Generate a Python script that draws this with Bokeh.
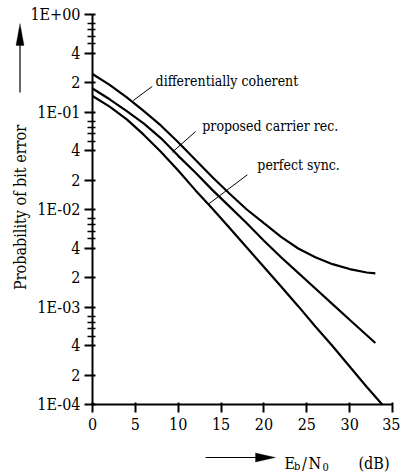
import math
from bokeh.plotting import figure
from bokeh.models import Range1d, FixedTicker, Label, Arrow, PolyAnnotation
from bokeh.embed import file_html
from bokeh.resources import INLINE

# ---- data ----
snr_db = [0, 2, 4, 6, 8, 10, 12, 14, 16, 18, 20, 22, 24, 26, 28, 30, 32, 33]
p_diff_coherent = [0.245, 0.19, 0.141, 0.102, 0.0724, 0.049, 0.0324, 0.0214, 0.0145,
                   0.0100, 0.00724, 0.00525, 0.00398, 0.00324, 0.00275, 0.00245,
                   0.00226, 0.00221]
p_proposed = [0.174, 0.135, 0.102, 0.0759, 0.0537, 0.0355, 0.024, 0.0158, 0.0107,
              0.00724, 0.00479, 0.00324, 0.00224, 0.00155, 0.00107, 0.00074,
              0.000513, 0.000427]
snr_db_perfect = [0, 2, 4, 6, 8, 10, 12, 14, 16, 18, 20, 22, 24, 26, 28, 30, 32, 33.8]
p_perfect = [0.146, 0.1135, 0.0841, 0.0582, 0.0389, 0.0251, 0.0158, 0.0102, 0.00646,
             0.00407, 0.00257, 0.00162, 0.00102, 0.00063, 0.000398, 0.000245,
             0.000151, 0.0001]

x_ticks = [0, 5, 10, 15, 20, 25, 30, 35]
y_ticks = [1e-4, 2e-4, 4e-4, 1e-3, 2e-3, 4e-3, 1e-2, 2e-2, 4e-2, 1e-1, 2e-1, 4e-1, 1.0]
y_tick_labels = ["1E-04", "2", "4", "1E-03", "2", "4", "1E-02", "2", "4",
                 "1E-01", "2", "4", "1E+00"]
y_minor = [5e-4, 6e-4, 7e-4, 8e-4, 5e-3, 6e-3, 7e-3, 8e-3,
           5e-2, 6e-2, 7e-2, 8e-2, 0.5, 0.6, 0.7, 0.8]

curve_names = ["differentially coherent", "proposed carrier rec.", "perfect sync."]
name_x = [7.36, 12.81, 19.23]
name_y = [0.2056, 0.0727, 0.0283]
leader_x0 = [4.75, 9.31, 13.58]
leader_y0 = [0.131, 0.0387, 0.01144]
leader_x1 = [6.97, 12.03, 18.07]
leader_y1 = [0.183, 0.0631, 0.0227]

FONT = "DejaVu Serif Condensed"

# ---- geometry: the frame covers the whole canvas, axes sit at fixed locations ----
W, H = 400, 472
PAGE_OFF = 0
X0_PX, X35_PX = 92, 392          # page px of x = 0 and x = 35
Y_TOP_DEC_PX, PX_PER_DEC = 14, 97.5   # page px of 1E+00, px per decade
px_per_db = (X35_PX - X0_PX) / 35.0
x_lo = (PAGE_OFF - X0_PX) / px_per_db
x_hi = (PAGE_OFF + W - X0_PX) / px_per_db
y_hi = 10 ** ((Y_TOP_DEC_PX - PAGE_OFF) / PX_PER_DEC)
y_lo = 10 ** (-(PAGE_OFF + H - Y_TOP_DEC_PX) / PX_PER_DEC)

p = figure(width=W, height=H, x_range=Range1d(x_lo, x_hi), y_range=Range1d(y_lo, y_hi),
           y_axis_type="log", output_backend="svg", toolbar_location=None,
           min_border_left=0, min_border_right=0, min_border_top=0, min_border_bottom=0)
p.title.visible = False
p.outline_line_color = None
p.grid.visible = False
p.background_fill_color = "white"
p.border_fill_color = "white"

for ax in (p.xaxis[0], p.yaxis[0]):
    ax.axis_line_width = 2
    ax.axis_line_color = "black"
    ax.major_tick_line_width = 2
    ax.major_tick_line_color = "black"
    ax.minor_tick_line_width = 1.5
    ax.minor_tick_line_color = "black"
    ax.major_label_text_font = FONT
    ax.major_label_text_color = "black"

p.xaxis.fixed_location = 1e-4
p.xaxis.bounds = (0, 35)
p.xaxis.ticker = FixedTicker(ticks=x_ticks, minor_ticks=[])
p.xaxis.major_tick_out = 8
p.xaxis.major_tick_in = 2
p.xaxis.major_label_text_font_size = "16px"
p.xaxis.major_label_standoff = 5

p.yaxis.fixed_location = 0
p.yaxis.bounds = (1e-4, 1)
p.yaxis.ticker = FixedTicker(ticks=y_ticks, minor_ticks=y_minor)
p.yaxis.major_label_overrides = dict(zip(y_ticks, y_tick_labels))
p.yaxis.major_tick_out = 8
p.yaxis.major_tick_in = 3
p.yaxis.minor_tick_out = 5
p.yaxis.minor_tick_in = 3
p.yaxis.major_label_text_font_size = "16px"
p.yaxis.major_label_standoff = 4

# curves
p.line(snr_db, p_diff_coherent, line_color="black", line_width=2.2)
p.line(snr_db, p_proposed, line_color="black", line_width=2.2)
p.line(snr_db_perfect, p_perfect, line_color="black", line_width=2.2)

# leader lines
p.segment(leader_x0, leader_y0, leader_x1, leader_y1, line_color="black", line_width=1)

for name, nx, ny in zip(curve_names, name_x, name_y):
    p.add_layout(Label(x=nx, y=ny, text=name, text_font=FONT, text_font_size="14px",
                       text_baseline="middle", text_align="left", text_color="black"))

# screen positions (frame == canvas); convert page pixels
def sx(px):
    return px - PAGE_OFF

def sy(py):
    return PAGE_OFF + H - py

# y axis title and arrow
p.add_layout(Label(x=sx(20), y=sy(207), x_units="screen", y_units="screen",
                   text="Probability of bit error", angle=math.pi / 2,
                   text_align="center", text_baseline="middle",
                   text_font=FONT, text_font_size="16px", text_color="black"))
p.add_layout(Arrow(x_start=sx(19.5), y_start=sy(92), x_end=sx(19.5), y_end=sy(40),
                   start_units="screen", end_units="screen", end=None,
                   line_color="black", line_width=1.2))
p.add_layout(PolyAnnotation(xs=[sx(19.5), sx(15.5), sx(23.5)], ys=[sy(23), sy(45), sy(45)],
                            xs_units="screen", ys_units="screen",
                            fill_color="black", fill_alpha=1, line_color="black"))

# x axis title and arrow
p.add_layout(Arrow(x_start=sx(205), y_start=sy(457), x_end=sx(258), y_end=sy(457),
                   start_units="screen", end_units="screen", end=None,
                   line_color="black", line_width=1.2))
p.add_layout(PolyAnnotation(xs=[sx(275), sx(255), sx(255)], ys=[sy(457), sy(452.5), sy(461.5)],
                            xs_units="screen", ys_units="screen",
                            fill_color="black", fill_alpha=1, line_color="black"))

def xlab(text, px, py, size="16px"):
    p.add_layout(Label(x=sx(px), y=sy(py), x_units="screen", y_units="screen",
                       text=text, text_font=FONT, text_font_size=size,
                       text_align="left", text_baseline="alphabetic", text_color="black"))

xlab("E", 284, 463)
xlab("b", 293.5, 466, "11px")
xlab("/", 301.5, 463)
xlab("N", 308, 463)
xlab("0", 322, 466, "11px")
xlab("(dB)", 358, 463)

open("out.html", "w").write(file_html(p, INLINE))
